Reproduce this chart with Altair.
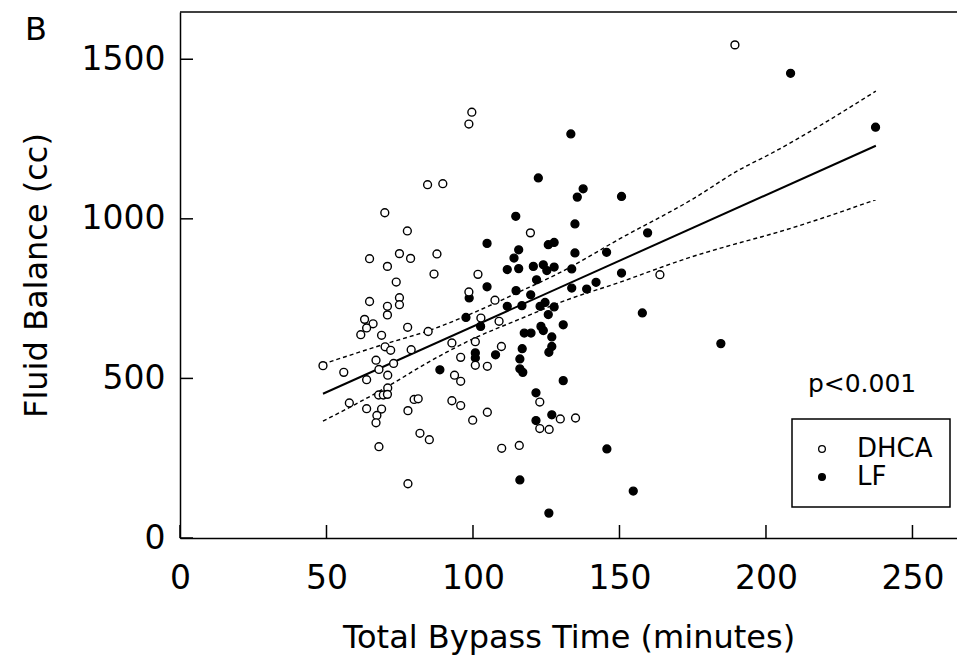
import altair as alt
import pandas as pd

# ---------------- data ----------------
dhca_x = [99.6, 98.6, 84.5, 89.7, 69.9, 77.6, 119.6, 64.7, 74.9, 78.7,
          87.7, 70.8, 86.7, 73.8, 101.7, 98.6, 107.5, 64.7, 70.8, 74.9,
          74.9, 70.8, 63.0, 65.9, 63.7, 61.7, 68.8, 77.7, 84.7, 70.0,
          71.9, 78.9, 92.8, 48.8, 55.9, 66.9, 67.9, 70.9, 72.9, 63.7,
          93.7, 95.8, 70.9, 67.8, 69.4, 70.8, 57.8, 63.7, 68.8, 67.2,
          66.9, 77.8, 79.9, 81.3, 92.8, 95.8, 81.9, 85.1, 67.9, 77.8,
          95.8, 102.7, 108.9, 100.8, 100.8, 104.9, 109.7, 99.9, 104.9, 109.8,
          115.8, 122.8, 129.8, 135.0, 122.8, 126.0, 163.8, 189.4]
dhca_y = [1334, 1297, 1107, 1110, 1019, 962, 956, 875, 891, 876,
          890, 851, 827, 802, 826, 771, 745, 741, 726, 753,
          731, 699, 685, 671, 658, 637, 635, 660, 647, 599,
          588, 590, 611, 540, 519, 557, 528, 510, 547, 496,
          510, 491, 470, 448, 448, 450, 423, 405, 404, 384,
          361, 399, 434, 436, 430, 415, 328, 308, 286, 170,
          566, 689, 679, 615, 541, 538, 600, 369, 394, 281,
          290, 426, 373, 376, 343, 340, 825, 1545]

lf_x = [122.3, 114.6, 104.8, 115.6, 114.0, 111.7, 115.6, 120.6, 121.7, 104.8,
        98.7, 114.7, 119.7, 88.7, 97.6, 102.6, 100.8, 100.8, 107.7, 116.8,
        116.0, 116.0, 117.0, 117.5, 119.8, 126.9, 126.9, 125.9, 130.8, 121.5,
        126.9, 121.5, 145.7, 116.0, 157.8, 184.6, 130.8, 154.7, 125.9, 133.4,
        137.6, 135.6, 150.7, 134.8, 159.6, 125.7, 127.7, 134.8, 145.6, 124.0,
        125.2, 127.7, 133.7, 150.7, 133.7, 142.0, 138.8, 124.6, 122.9, 127.7,
        111.7, 116.7, 125.7, 123.2, 124.0, 208.4, 237.4]
lf_y = [1128, 1008, 923, 903, 877, 841, 844, 851, 809, 787,
        752, 775, 762, 527, 691, 663, 580, 564, 574, 593,
        561, 530, 519, 642, 642, 630, 600, 582, 493, 455,
        386, 368, 279, 182, 705, 609, 668, 147, 78, 1266,
        1094, 1068, 1070, 984, 956, 919, 926, 893, 895, 856,
        838, 849, 843, 830, 783, 801, 780, 738, 726, 724,
        726, 728, 700, 663, 650, 1456, 1287]

fit_x = [48.8, 237.5]
fit_y = [452, 1229]

ci_x = [48.8, 70, 85, 100, 116, 130, 150, 175, 191, 201, 237.5]
ci_upper = [545, 608, 650, 705, 772, 833, 937, 1062, 1154, 1201, 1400]
ci_lower = [366, 470, 552, 624, 686, 739, 801, 882, 925, 950, 1060]

x_ticks = [0, 50, 100, 150, 200, 250]
y_ticks = [0, 500, 1000, 1500]
groups = ["DHCA", "LF"]
p_text = "p<0.001"
p_pos = (232.8, 481)
panel_label = "B"

# ---------------- chart ----------------
W, H = 777, 526
FONT = "DejaVu Sans"

xs = alt.Scale(domain=[0, 265.2], nice=False, zero=False)
ys = alt.Scale(domain=[0, 1648], nice=False, zero=False)

pts = pd.concat([
    pd.DataFrame({"x": lf_x, "y": lf_y, "group": "LF"}),
    pd.DataFrame({"x": dhca_x, "y": dhca_y, "group": "DHCA"}),
], ignore_index=True)

x_axis = alt.Axis(values=x_ticks, format="d", title="Total Bypass Time (minutes)", grid=False,
                  ticks=False, domain=True, domainColor="black", domainWidth=1.5,
                  labelFont=FONT, labelFontSize=33, labelColor="black", labelPadding=24,
                  labelFlush=False, labelOverlap=False,
                  titleFont=FONT, titleFontSize=32, titleFontWeight="normal",
                  titleColor="black", titlePadding=27)
y_axis = alt.Axis(values=y_ticks, format="d", title="Fluid Balance (cc)", grid=False,
                  ticks=False, domain=True, domainColor="black", domainWidth=1.5,
                  labelFont=FONT, labelFontSize=33, labelColor="black", labelPadding=15,
                  labelFlush=False, labelOverlap=False,
                  titleFont=FONT, titleFontSize=32, titleFontWeight="normal",
                  titleColor="black", titlePadding=28)

legend = alt.Legend(title=None, orient="none", legendX=612, legendY=407,
                    strokeColor="black", fillColor="white", padding=17,
                    labelFont=FONT, labelFontSize=26, labelColor="black",
                    symbolType="circle", symbolSize=45, symbolStrokeColor="black",
                    symbolStrokeWidth=1.3, symbolOpacity=1, rowPadding=2, labelOffset=22)


def X(field):
    return alt.X(field, scale=xs, axis=x_axis)


def Y(field):
    return alt.Y(field, scale=ys, axis=y_axis)


points = alt.Chart(pts).mark_point(filled=True, stroke="black", strokeWidth=1.4,
                                   opacity=1, size=62).encode(
    x=X("x:Q"),
    y=Y("y:Q"),
    fill=alt.Fill("group:N", scale=alt.Scale(domain=groups, range=["white", "black"]),
                  legend=legend),
    order=alt.Order("group:N", sort="descending"),
)

fit = alt.Chart(pd.DataFrame({"x": fit_x, "y": fit_y})).mark_line(
    color="black", strokeWidth=2).encode(x=X("x:Q"), y=Y("y:Q"))

ci_df = pd.concat([
    pd.DataFrame({"x": ci_x, "y": ci_upper, "band": "upper"}),
    pd.DataFrame({"x": ci_x, "y": ci_lower, "band": "lower"}),
], ignore_index=True)
ci = alt.Chart(ci_df).mark_line(color="black", strokeWidth=1.4, strokeDash=[4, 3],
                                interpolate="monotone").encode(
    x=X("x:Q"), y=Y("y:Q"), detail="band:N")

xt = alt.Chart(pd.DataFrame({"x": x_ticks})).mark_rule(color="black", strokeWidth=1.5).encode(
    x=X("x:Q"), y=alt.value(H), y2=alt.value(H - 13))
yt = alt.Chart(pd.DataFrame({"y": y_ticks})).mark_rule(color="black", strokeWidth=1.5).encode(
    y=Y("y:Q"), x=alt.value(0), x2=alt.value(13))
top = alt.Chart(pd.DataFrame({"a": [0]})).mark_rule(color="black", strokeWidth=1.5).encode(
    x=alt.value(0), x2=alt.value(W), y=alt.value(0))

ptxt = alt.Chart(pd.DataFrame({"x": [p_pos[0]], "y": [p_pos[1]], "t": [p_text]})).mark_text(
    font=FONT, fontSize=25, color="black").encode(x=X("x:Q"), y=Y("y:Q"), text="t:N")

btxt = alt.Chart(pd.DataFrame({"t": [panel_label]})).mark_text(
    font=FONT, fontSize=32, color="black").encode(
    x=alt.value(-144), y=alt.value(18), text="t:N")

chart = alt.layer(ci, fit, points, xt, yt, top, ptxt, btxt).properties(
    width=W, height=H,
    padding={"left": 180, "top": 12, "right": 0, "bottom": 120},
    autosize=alt.AutoSizeParams(type="none"),
    background="white",
).configure_view(stroke=None).configure_legend(strokeWidth=1.5)

chart.save("out.html", embed_options={"renderer": "svg", "actions": False})
